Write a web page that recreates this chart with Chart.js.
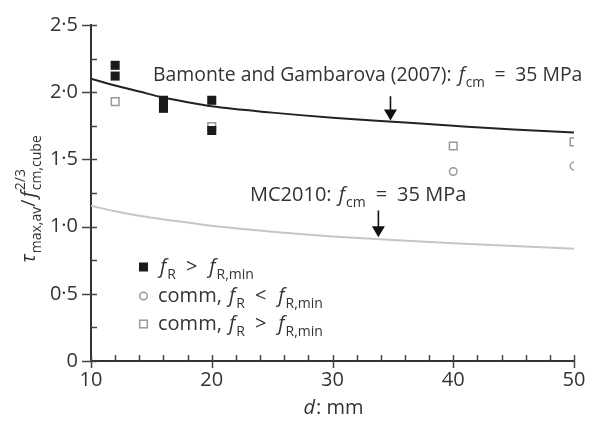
<!DOCTYPE html>
<html>
<head>
<meta charset="utf-8">
<script src="https://cdn.jsdelivr.net/npm/chart.js@4.4.0/dist/chart.umd.min.js"></script>
<style>
  html, body { margin: 0; padding: 0; background: #fff; }
</style>
</head>
<body>
<canvas id="chart" width="603" height="422"></canvas>
<script>
// bar diameter d (mm) where the two model curves were read
const curveD = [10, 12, 14, 16, 18, 20, 25, 30, 35, 40, 45, 50];
const bamonte = [2.10, 2.05, 2.005, 1.96, 1.925, 1.895, 1.848, 1.81, 1.78, 1.75, 1.722, 1.70];
const mc2010 = [1.155, 1.114, 1.08, 1.053, 1.03, 1.006, 0.962, 0.927, 0.90, 0.877, 0.856, 0.836];

// test results: fR > fR,min (filled squares)
const filledD = [12, 12, 16, 16, 20, 20];
const filledTau = [2.20, 2.12, 1.94, 1.88, 1.94, 1.715];
// commercial bars, fR < fR,min (open circles)
const circleD = [40, 50];
const circleTau = [1.41, 1.45];
// commercial bars, fR > fR,min (open squares)
const openD = [12, 20, 40, 50];
const openTau = [1.93, 1.745, 1.60, 1.63];

const xTicks = [10, 20, 30, 40, 50];
const yTicks = [0, 0.5, 1.0, 1.5, 2.0, 2.5];

const FONT = '"Open Sans", "DejaVu Sans", sans-serif';
const TXT = '#333';
const SIZE = 20;
const EQ = '\u2002=\u2002';

function pts(xs, ys) {
  return xs.map((v, i) => ({ x: v, y: ys[i] }));
}

function fontFor(kind, size) {
  if (kind === 'i') return `italic ${size}px ${FONT}`;
  if (kind === 'sub' || kind === 'sup' || kind === 'supsub') return `${size * 0.7}px ${FONT}`;
  return `${size}px ${FONT}`;
}

// width of a run of text pieces: [text, kind] or [sup, 'supsub', sub]
function richWidth(ctx, parts, size) {
  let w = 0;
  for (const p of parts) {
    ctx.font = fontFor(p[1], size);
    if (p[1] === 'supsub') {
      w += Math.max(ctx.measureText(p[0]).width, ctx.measureText(p[2]).width);
    } else {
      w += ctx.measureText(p[0]).width + (p[1] === 'i' ? 3 : 0);
    }
  }
  return w;
}

// draws text with italics, subscripts and superscripts, left to right from (x, y)
function richText(ctx, parts, x, y, size) {
  let cx = x;
  ctx.textBaseline = 'alphabetic';
  ctx.textAlign = 'left';
  for (const p of parts) {
    ctx.font = fontFor(p[1], size);
    if (p[1] === 'supsub') {
      ctx.fillText(p[0], cx, y - size * 0.5);
      ctx.fillText(p[2], cx, y + size * 0.3);
      cx += Math.max(ctx.measureText(p[0]).width, ctx.measureText(p[2]).width);
      continue;
    }
    let dy = 0;
    if (p[1] === 'sub') dy = size * 0.3;
    if (p[1] === 'sup') dy = -size * 0.5;
    if (p[1] === 'i') cx += 2;
    ctx.fillText(p[0], cx, y + dy);
    cx += ctx.measureText(p[0]).width + (p[1] === 'i' ? 1 : 0);
  }
  return cx;
}

function arrow(ctx, x, y0, y1) {
  ctx.strokeStyle = '#111';
  ctx.fillStyle = '#111';
  ctx.lineWidth = 1.6;
  ctx.beginPath();
  ctx.moveTo(x, y0);
  ctx.lineTo(x, y1 - 8);
  ctx.stroke();
  ctx.beginPath();
  ctx.moveTo(x - 6.5, y1 - 11);
  ctx.lineTo(x + 6.5, y1 - 11);
  ctx.lineTo(x, y1);
  ctx.closePath();
  ctx.fill();
}

// ticks (minor inside, major across the axis), titles, legend and labels
const decorations = {
  id: 'decorations',
  afterDraw(chart) {
    const { ctx, chartArea: a, scales: { x, y } } = chart;
    ctx.save();

    ctx.strokeStyle = '#444';
    ctx.lineWidth = 1.5;
    for (let i = 0; i <= 20; i++) {
      const v = 10 + i * 2;
      const px = Math.round(x.getPixelForValue(v)) + 0.5;
      const major = v % 10 === 0;
      ctx.beginPath();
      ctx.moveTo(px, a.bottom - 6);
      ctx.lineTo(px, major ? a.bottom + 7 : a.bottom);
      ctx.stroke();
    }
    for (let i = 0; i <= 10; i++) {
      const v = i * 0.25;
      const py = Math.round(y.getPixelForValue(v)) + 0.5;
      const major = i % 2 === 0;
      ctx.beginPath();
      ctx.moveTo(major ? a.left - 9 : a.left, py);
      ctx.lineTo(a.left + 6, py);
      ctx.stroke();
    }

    ctx.fillStyle = TXT;

    // y axis title
    const yTitle = [['τ', 'i'], ['max,av', 'sub'], ['/', 'n'], ['f', 'i'], ['2/3', 'supsub', 'cm,cube']];
    ctx.save();
    ctx.translate(35, 200);
    ctx.rotate(-Math.PI / 2);
    const tw = richWidth(ctx, yTitle, SIZE);
    richText(ctx, yTitle, -tw / 2, 0, SIZE);
    ctx.restore();

    // x axis title
    const xTitle = [['d', 'i'], [': mm', 'n']];
    const xw = richWidth(ctx, xTitle, SIZE);
    richText(ctx, xTitle, x.getPixelForValue(30) - xw / 2, 414, SIZE);

    // curve labels
    richText(ctx, [['Bamonte and Gambarova (2007): ', 'n'], ['f', 'i'], ['cm', 'sub'], [EQ + '35 MPa', 'n']], 153, 81, 19.4);
    richText(ctx, [['MC2010: ', 'n'], ['f', 'i'], ['cm', 'sub'], [EQ + '35 MPa', 'n']], 250, 201, SIZE);

    arrow(ctx, x.getPixelForValue(34.8), y.getPixelForValue(1.97), y.getPixelForValue(1.79));
    arrow(ctx, x.getPixelForValue(33.8), y.getPixelForValue(1.12), y.getPixelForValue(0.92));

    // legend
    const lx = 143.5;
    ctx.fillStyle = '#1a1a1a';
    ctx.fillRect(lx - 4.5, 262.5, 9, 9);
    ctx.strokeStyle = '#9a9a9a';
    ctx.lineWidth = 1.5;
    ctx.beginPath();
    ctx.arc(lx, 296, 3.8, 0, Math.PI * 2);
    ctx.stroke();
    ctx.strokeRect(lx - 3.8, 320.2, 7.6, 7.6);

    ctx.fillStyle = TXT;
    const fR = [['f', 'i'], ['R', 'sub']];
    const fRmin = [['f', 'i'], ['R,min', 'sub']];
    richText(ctx, [...fR, ['\u2002>\u2002', 'n'], ...fRmin], 158, 273, SIZE);
    richText(ctx, [['comm, ', 'n'], ...fR, ['\u2002<\u2002', 'n'], ...fRmin], 158, 302, SIZE);
    richText(ctx, [['comm, ', 'n'], ...fR, ['\u2002>\u2002', 'n'], ...fRmin], 158, 330, SIZE);

    ctx.restore();
  }
};

new Chart(document.getElementById('chart'), {
  type: 'scatter',
  data: {
    datasets: [{
      label: 'fR > fR,min',
      data: pts(filledD, filledTau),
      pointStyle: 'rect',
      pointRadius: 6.4,
      backgroundColor: '#1a1a1a',
      borderColor: '#1a1a1a',
      borderWidth: 0
    }, {
      label: 'comm, fR < fR,min',
      data: pts(circleD, circleTau),
      pointStyle: 'circle',
      pointRadius: 3.8,
      backgroundColor: '#fff',
      borderColor: '#9a9a9a',
      borderWidth: 1.5
    }, {
      label: 'comm, fR > fR,min',
      data: pts(openD, openTau),
      pointStyle: 'rect',
      pointRadius: 5.4,
      backgroundColor: '#fff',
      borderColor: '#9a9a9a',
      borderWidth: 1.5
    }, {
      label: 'Bamonte and Gambarova (2007)',
      data: pts(curveD, bamonte),
      showLine: true,
      cubicInterpolationMode: 'monotone',
      borderColor: '#222',
      borderWidth: 2,
      pointRadius: 0
    }, {
      label: 'MC2010',
      data: pts(curveD, mc2010),
      showLine: true,
      cubicInterpolationMode: 'monotone',
      borderColor: '#c6c6c6',
      borderWidth: 2,
      pointRadius: 0
    }]
  },
  options: {
    responsive: false,
    animation: false,
    layout: { padding: { top: 20, right: 29, left: 0, bottom: 0 } },
    plugins: {
      legend: { display: false },
      tooltip: { enabled: false }
    },
    scales: {
      x: {
        type: 'linear',
        min: 10,
        max: 50,
        afterFit(s) { s.height = 61; },
        afterBuildTicks(s) { s.ticks = xTicks.map(v => ({ value: v })); },
        grid: { display: false, drawTicks: false },
        border: { display: true, color: '#333', width: 2 },
        ticks: { padding: 7, color: TXT, font: { family: FONT, size: SIZE } }
      },
      y: {
        min: 0,
        max: 2.5,
        afterFit(s) { s.width = 91; },
        afterBuildTicks(s) { s.ticks = yTicks.map(v => ({ value: v })); },
        grid: { display: false, drawTicks: false },
        border: { display: true, color: '#333', width: 2 },
        ticks: {
          padding: 13,
          color: TXT,
          font: { family: FONT, size: SIZE },
          callback: v => v === 0 ? '0' : v.toFixed(1).replace('.', '·')
        }
      }
    }
  },
  plugins: [decorations]
});
</script>
</body>
</html>
